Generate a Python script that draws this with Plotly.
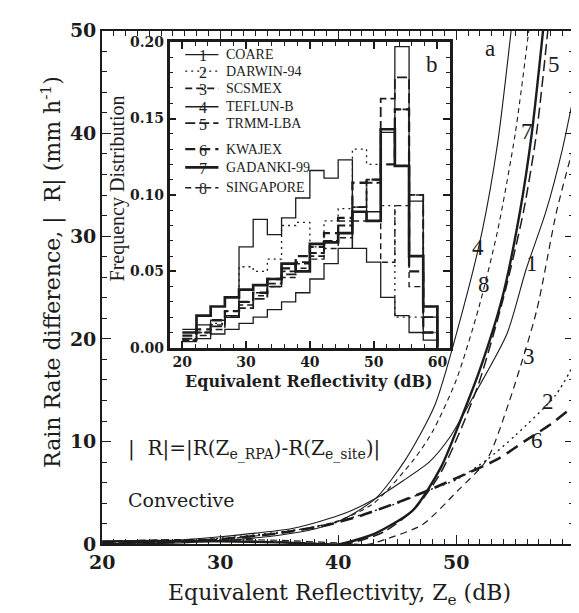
import plotly.graph_objects as go

W, H = 579, 613

# ---------------- main panel (a): (Ze [dB], |dR| [mm/h]) ----------------
names = ["COARE", "DARWIN-94", "SCSMEX", "TEFLUN-B", "TRMM-LBA", "KWAJEX", "GADANKI-99", "SINGAPORE"]

z1 = [20, 25, 30, 33, 36.3, 40.5, 43.2, 45.5, 47.7, 49.5, 51.5, 54.3, 55.9, 57.6, 59, 60]
r1 = [0.05, 0.3, 0.75, 1.1, 1.6, 3.0, 4.5, 6.2, 8.0, 10.5, 14.5, 20.5, 26.7, 32.4, 38.5, 44.0]

z2 = [20, 25, 30, 35, 39, 42, 45, 47.5, 50, 52.6, 55, 58.4, 60]
r2 = [0.05, 0.25, 0.6, 1.2, 1.9, 2.9, 4.0, 5.2, 6.3, 8.25, 10.6, 14.5, 17.6]

z3 = [20, 25, 30, 35, 40, 42.5, 44, 47.1, 50.1, 52.6, 54.4, 56.8, 58.5, 60]
r3 = [0.3, 0.45, 0.5, 0.4, 0.15, 0.0, 0.5, 1.9, 5.2, 8.25, 13.6, 22.7, 32.4, 39.0]

z4 = [20, 25, 30, 35, 38, 40.5, 43.2, 45.7, 48.2, 50.6, 52.2, 53.5, 54.7]
r4 = [0.0, 0.1, 0.35, 0.9, 1.5, 2.5, 4.5, 8.25, 13.6, 23.0, 30.5, 39.0, 50.5]

z5 = [20, 25, 30, 35, 38, 40.5, 42.5, 44, 46.5, 48.7, 50.5, 52, 54, 55.7, 56.8, 57.8]
r5 = [0.2, 0.3, 0.35, 0.25, 0.1, 0.0, 0.6, 1.3, 3.5, 7.0, 11.5, 16.0, 24.0, 32.4, 40.0, 50.5]

z6 = [20, 25, 30, 35, 39.1, 41.9, 44.6, 47.3, 50.1, 53.5, 56, 58, 60]
r6 = [0.05, 0.2, 0.5, 1.1, 1.9, 2.8, 3.9, 5.1, 6.5, 8.3, 10.2, 11.7, 13.5]

z7 = [20, 25, 30, 35, 38, 40, 42, 43.2, 46.3, 48.7, 50.5, 52, 53.9, 55.4, 56.4, 57.4]
r7 = [0.3, 0.35, 0.3, 0.2, 0.08, 0.0, 0.6, 1.1, 3.3, 7.5, 12.5, 17.0, 24.0, 32.4, 40.0, 50.5]

z8 = [20, 25, 30, 35, 40, 43, 46.4, 48, 50, 51.9, 53.5, 55, 56.2]
r8 = [0.0, 0.2, 0.5, 1.1, 2.3, 4.0, 8.25, 11.0, 16.0, 23.0, 30.5, 40.0, 50.5]

curve_z = [z1, z2, z3, z4, z5, z6, z7, z8]
curve_r = [r1, r2, r3, r4, r5, r6, r7, r8]

# ---------------- inset panel (b): frequency distributions (step histograms) ----------------
bin_edges = [20.0, 22.22, 24.44, 26.67, 28.89, 31.11, 33.33, 35.56, 37.78, 40.0,
             42.22, 44.44, 46.67, 48.89, 51.11, 53.33, 55.56, 57.78, 60.0]
h1 = [0.012, 0.015, 0.018, 0.021, 0.066, 0.084, 0.074, 0.085, 0.098, 0.116, 0.111, 0.123, 0.065, 0.056, 0.033, 0.021, 0.010, 0.005]
h2 = [0.006, 0.010, 0.016, 0.024, 0.053, 0.050, 0.058, 0.080, 0.082, 0.066, 0.083, 0.091, 0.130, 0.120, 0.093, 0.020, 0.020, 0.010]
h3 = [0.005, 0.008, 0.012, 0.020, 0.030, 0.036, 0.042, 0.050, 0.055, 0.060, 0.070, 0.083, 0.092, 0.110, 0.143, 0.156, 0.100, 0.027]
h4 = [0.004, 0.006, 0.009, 0.012, 0.016, 0.020, 0.025, 0.030, 0.036, 0.045, 0.055, 0.065, 0.092, 0.089, 0.141, 0.197, 0.096, 0.020]
h5 = [0.006, 0.010, 0.014, 0.020, 0.026, 0.032, 0.040, 0.048, 0.056, 0.062, 0.070, 0.080, 0.092, 0.108, 0.163, 0.177, 0.100, 0.020]
h6 = [0.008, 0.012, 0.018, 0.024, 0.030, 0.036, 0.045, 0.052, 0.060, 0.066, 0.075, 0.085, 0.108, 0.110, 0.120, 0.156, 0.050, 0.010]
h7 = [0.010, 0.021, 0.027, 0.033, 0.038, 0.041, 0.045, 0.055, 0.050, 0.068, 0.069, 0.075, 0.089, 0.083, 0.143, 0.119, 0.060, 0.027]
h8 = [0.005, 0.010, 0.015, 0.020, 0.028, 0.034, 0.040, 0.046, 0.052, 0.058, 0.065, 0.072, 0.083, 0.083, 0.056, 0.093, 0.040, 0.010]
hists = [h1, h2, h3, h4, h5, h6, h7, h8]

# ---------------- styles ----------------
INK = "#1c1c1c"
styles = [
    dict(width=1.1, dash="solid"),
    dict(width=1.4, dash="2px,4px"),
    dict(width=1.2, dash="7px,5px"),
    dict(width=1.1, dash="solid"),
    dict(width=1.5, dash="11px,5px"),
    dict(width=2.6, dash="13px,7px"),
    dict(width=2.4, dash="solid"),
    dict(width=1.1, dash="5px,4px"),
]
hist_styles = [
    dict(width=1.3, dash="solid"),
    dict(width=1.3, dash="2px,4px"),
    dict(width=1.6, dash="7px,4px"),
    dict(width=1.3, dash="solid"),
    dict(width=1.8, dash="10px,4px"),
    dict(width=2.3, dash="10px,5px"),
    dict(width=2.7, dash="solid"),
    dict(width=1.4, dash="6px,4px"),
]

fig = go.Figure()

for i in range(8):
    fig.add_trace(go.Scatter(
        x=curve_z[i], y=curve_r[i], mode="lines",
        line=dict(color=INK, shape="spline", smoothing=0.7, **styles[i]),
        showlegend=False, xaxis="x", yaxis="y", cliponaxis=True, hoverinfo="skip"))

for i in range(8):
    h = hists[i]
    fig.add_trace(go.Scatter(
        x=bin_edges + [bin_edges[-1]], y=h + [h[-1], 0], mode="lines",
        line=dict(color=INK, shape="hv", **hist_styles[i]),
        showlegend=False, xaxis="x2", yaxis="y2", hoverinfo="skip"))

# ---------------- layout geometry (pixels -> paper) ----------------
def px(x):
    return x / W

def py(y):
    return 1 - y / H

tick_main = dict(family="DejaVu Serif", size=19, color=INK, weight="bold")
tick_inset = dict(family="DejaVu Serif", size=14, color=INK, weight="bold")

common_main = dict(showline=True, linewidth=2, linecolor=INK, mirror="ticks",
                   ticks="inside", ticklen=9, tickwidth=1.3, tickcolor=INK,
                   tickfont=tick_main, showgrid=False, zeroline=False)
common_inset = dict(showline=True, linewidth=2.5, linecolor=INK, mirror="ticks",
                    ticks="inside", ticklen=7, tickwidth=1.5, tickcolor=INK,
                    tickfont=tick_inset, showgrid=False, zeroline=False)

fig.update_layout(
    width=W, height=H, margin=dict(l=0, r=0, t=0, b=0),
    paper_bgcolor="white", plot_bgcolor="white", showlegend=False,
    xaxis=dict(domain=[px(83), px(566)], range=[20, 60], anchor="y",
               tickvals=[20, 30, 40, 50, 60],
               minor=dict(dtick=1, ticklen=5, tickwidth=1, tickcolor=INK, ticks="inside"),
               **common_main),
    yaxis=dict(domain=[py(545), py(12)], range=[0, 50], anchor="x",
               tickvals=[0, 10, 20, 30, 40, 50],
               minor=dict(dtick=2, ticklen=5, tickwidth=1, tickcolor=INK, ticks="inside"),
               **common_main),
    xaxis2=dict(domain=[px(152), px(439)], range=[18, 62], anchor="y2",
                tickvals=[20, 30, 40, 50, 60],
                minor=dict(dtick=2, ticklen=4, tickwidth=1.2, tickcolor=INK, ticks="inside"),
                **common_inset),
    yaxis2=dict(domain=[py(341), py(24)], range=[0, 0.2], anchor="x2",
                tickvals=[0, 0.05, 0.10, 0.15, 0.20], tickformat=".2f",
                minor=dict(dtick=0.01, ticklen=4, tickwidth=1.2, tickcolor=INK, ticks="inside"),
                **common_inset),
)

annotations = []
shapes = []

def note(text, x, y, size, family="DejaVu Serif", xanchor="center", angle=0, weight="normal"):
    annotations.append(dict(text=text, x=px(x), y=py(y), xref="paper", yref="paper",
                            showarrow=False, xanchor=xanchor, yanchor="middle", textangle=angle,
                            font=dict(family=family, size=size, color=INK, weight=weight)))

# axis titles
note("Equivalent Reflectivity, Z<sub>e</sub> (dB)", 326, 597, 22)
note("Rain Rate difference, |  R| (mm h<sup>-1</sup>)", 31, 262, 22, angle=-90)
note("Equivalent Reflectivity (dB)", 295, 376, 16, weight="bold")
note("Frequency Distribution", 99, 176, 20, family="Liberation Serif", angle=-90)

# curve labels in panel (a) and panel tags
for t, x, y in [("a", 480, 31), ("5", 545, 47), ("7", 518, 117), ("4", 468, 237),
                ("8", 474, 275), ("1", 523, 254), ("3", 520, 350), ("2", 539, 397), ("6", 528, 437)]:
    note(t, x, y, 23, family="Liberation Serif")
note("b", 420, 47, 23, family="Liberation Serif")

note("|  R|=|R(Z<sub>e_RPA</sub>)-R(Z<sub>e_site</sub>)|", 107, 447, 20, xanchor="left")
note("Convective", 107, 499, 19, xanchor="left")

# inset legend
leg_y = [37, 54, 72, 91, 108, 135, 154, 175]
for i in range(8):
    y = leg_y[i]
    st = hist_styles[i]
    shapes.append(dict(type="line", xref="paper", yref="paper", x0=px(168), x1=px(202),
                       y0=py(y), y1=py(y), line=dict(color=INK, width=st["width"], dash=st["dash"])))
    note(str(i + 1), 186, y + 1, 16, family="Liberation Serif")
    note(names[i], 208, y, 14, family="Liberation Serif", xanchor="left")

fig.update_layout(annotations=annotations, shapes=shapes)

fig.write_html("out.html")
